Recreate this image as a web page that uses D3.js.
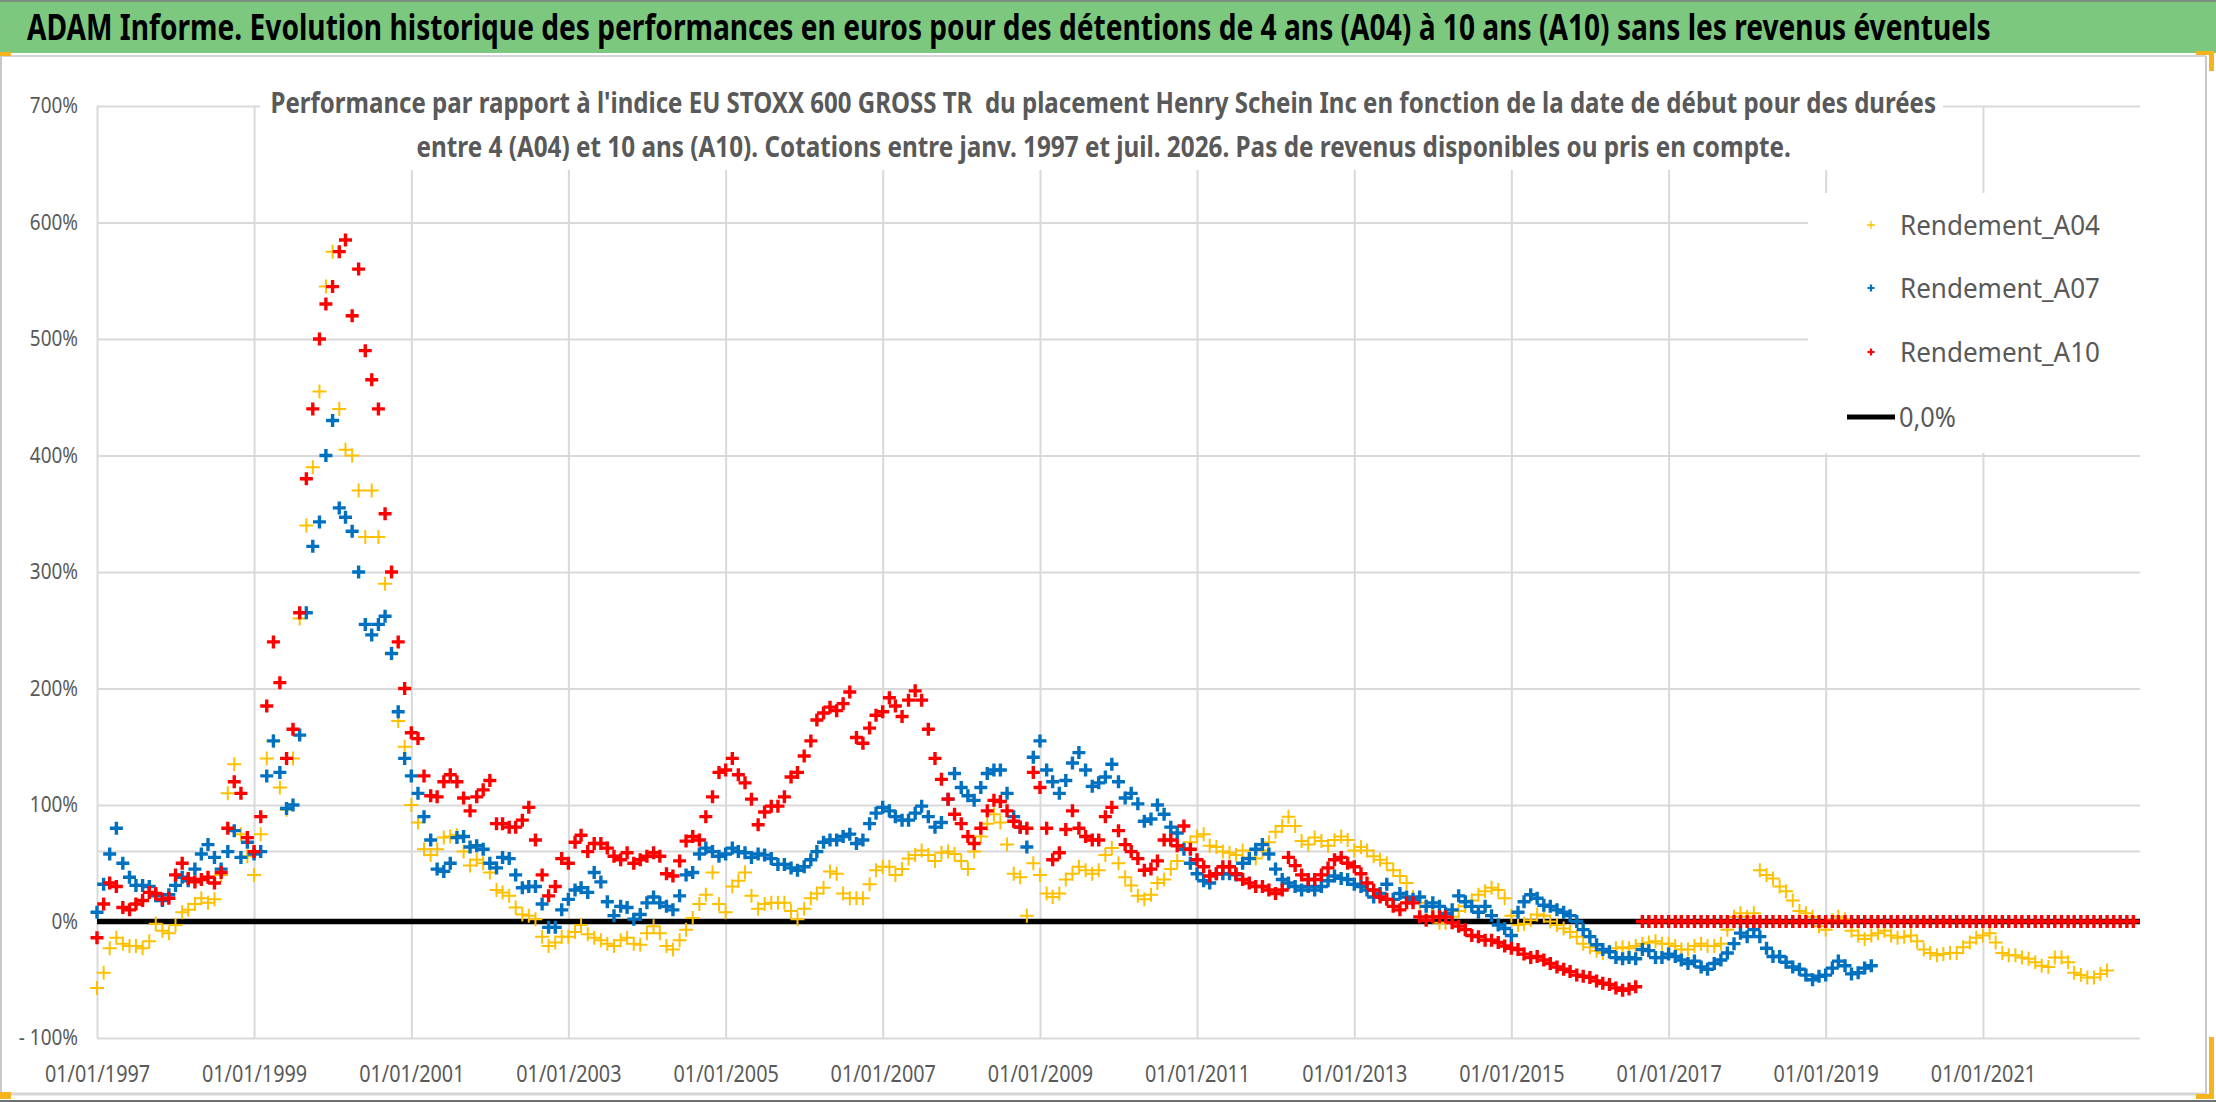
<!DOCTYPE html>
<html lang="fr">
  <head>
    <meta charset="UTF-8" />
    <title>ADAM Informe - Henry Schein Inc</title>
    <script src="https://cdnjs.cloudflare.com/ajax/libs/d3/7.8.5/d3.min.js"></script>
    <style>
      body { margin: 0; background: #fff; }
      svg { display: block; font-family: "Noto Sans", "Open Sans", sans-serif; }
    </style>
  </head>

  <body>
    <script>
      // valeurs : une valeur par mois a partir de janv. 1997 (en %)
      var startYear = 1997;

      var a04 = [
        -57,-44,-23,-14,-19,-21,-21,-23,-17,-2,-8,-10,
        -3,8,10,15,20,16,19,40,110,135,75,56,
        40,75,140,155,115,96,140,260,340,390,455,545,
        575,440,405,400,370,330,370,330,290,230,172,150,
        100,85,62,57,62,72,73,74,60,48,53,50,
        42,27,25,22,12,6,5,2,-13,-21,-18,-13,
        -13,-9,-3,-11,-14,-16,-19,-21,-16,-14,-19,-20,
        -10,-4,-10,-21,-24,-16,-7,3,15,23,42,15,
        8,30,35,42,22,11,15,16,16,16,9,2,
        11,20,24,29,43,41,24,20,20,20,32,44,
        47,47,40,45,54,57,61,57,52,59,60,58,
        52,45,60,73,84,92,85,66,41,38,5,50,
        40,24,21,24,36,41,47,44,41,44,57,63,
        50,38,31,22,19,23,33,36,45,52,63,68,
        73,75,65,64,60,59,57,61,55,54,61,68,
        77,82,90,82,69,66,72,69,65,70,73,70,
        61,64,61,56,53,50,44,39,33,21,16,13,
        5,-1,-1,4,9,13,18,23,26,29,27,20,
        5,-3,-2,1,6,5,0,-3,-6,-9,-13,-19,
        -22,-25,-27,-26,-23,-22,-23,-21,-19,-18,-17,-19,
        -19,-21,-24,-24,-21,-19,-21,-21,-19,-7,4,7,
        4,7,44,40,37,30,26,18,9,7,4,-4,
        -7,1,4,2,-8,-12,-15,-12,-10,-8,-12,-14,
        -13,-12,-17,-24,-27,-29,-28,-27,-27,-22,-18,-14,
        -12,-10,-18,-27,-29,-29,-31,-32,-35,-38,-39,-31,
        -31,-35,-44,-46,-48,-48,-45,-42
      ];

      var a07 = [
        8,32,58,80,50,38,31,31,30,22,18,23,
        31,38,35,45,58,66,55,45,60,78,55,68,
        58,60,125,155,128,97,100,160,265,322,343,400,
        430,355,347,335,300,255,246,255,262,230,180,140,
        125,110,90,70,45,43,50,72,73,64,65,62,
        50,46,55,54,40,29,30,30,15,-5,-5,10,
        19,27,29,25,42,34,17,5,13,12,2,6,
        16,21,16,13,10,22,40,42,58,63,60,56,
        58,63,60,59,55,58,57,54,49,49,46,44,
        47,53,60,68,70,70,73,75,67,70,84,93,
        98,95,90,87,87,93,99,90,81,85,105,127,
        115,108,104,115,127,130,130,110,90,81,64,141,
        155,130,120,110,121,136,145,130,116,119,124,135,
        120,106,110,101,86,88,100,92,81,76,62,50,
        41,35,33,41,41,41,40,50,54,62,66,58,
        45,36,33,30,27,30,27,30,35,39,37,36,
        32,30,27,21,24,32,19,24,21,19,21,13,
        16,13,7,10,22,17,13,8,13,5,-3,-6,
        -12,8,17,23,20,14,13,10,8,5,0,-7,
        -13,-20,-24,-26,-31,-32,-31,-32,-24,-25,-31,-31,
        -28,-30,-33,-36,-34,-39,-41,-36,-33,-27,-19,-10,
        -13,-7,-13,-23,-30,-30,-35,-39,-41,-46,-50,-47,
        -46,-40,-34,-38,-45,-44,-40,-38
      ];

      // A10 : plus de cotation apres aout 2016, la serie vaut 0
      var a10 = [
        -14,15,33,30,12,10,15,18,25,24,19,20,
        40,50,37,34,36,38,33,42,80,120,110,72,
        60,90,185,240,205,140,165,265,380,440,500,530,
        545,575,585,520,560,490,465,440,350,300,240,200,
        162,157,125,108,107,120,126,120,106,95,107,113,
        121,84,84,81,81,87,98,70,40,22,30,54,
        50,68,74,60,67,67,63,56,53,59,50,53,
        56,59,56,41,39,52,69,73,70,90,107,128,
        130,140,126,119,105,83,94,99,99,107,124,128,
        142,155,173,179,184,181,187,197,158,153,166,177,
        180,192,185,176,190,198,190,165,140,122,105,92,
        84,73,67,80,95,104,103,95,86,81,80,128,
        115,80,53,59,79,95,80,73,70,70,90,98,
        78,66,60,54,44,45,52,70,70,65,82,62,
        53,47,39,41,47,47,41,36,33,30,30,27,
        24,27,55,48,40,36,36,40,46,53,55,50,
        47,41,33,27,21,19,13,10,16,16,4,1,
        4,4,4,-1,-4,-7,-12,-13,-16,-16,-18,-21,
        -23,-24,-28,-31,-30,-33,-36,-39,-41,-43,-46,-47,
        -48,-51,-53,-54,-57,-59,-58,-56,0,0,0,0,
        0,0,0,0,0,0,0,0,0,0,0,0,
        0,0,0,0,0,0,0,0,0,0,0,0,
        0,0,0,0,0,0,0,0,0,0,0,0,
        0,0,0,0,0,0,0,0,0,0,0,0,
        0,0,0,0,0,0,0,0,0,0,0,0,
        0,0,0,0,0,0,0,0,0,0,0,0
      ];

      var zeroDates = ["1997-01-01", "2023-01-01"];
      var zeroValues = [0, 0];
      var refDates = ["1997-01-01", "2023-01-01"];
      var refValues = [60, 60];

      var xTickYears = [1997, 1999, 2001, 2003, 2005, 2007, 2009, 2011, 2013, 2015, 2017, 2019, 2021];
      var yTicks = [-100, 0, 100, 200, 300, 400, 500, 600, 700];

      var seriesNames = ["Rendement_A04", "Rendement_A07", "Rendement_A10"];
      var zeroName = "0,0%";
      var titleText = "ADAM Informe. Evolution historique des performances en euros pour des détentions de 4 ans (A04) à 10 ans (A10) sans les revenus éventuels";
      var subtitleLines = [
        "Performance par rapport à l'indice EU STOXX 600 GROSS TR  du placement Henry Schein Inc en fonction de la date de début pour des durées",
        "entre 4 (A04) et 10 ans (A10). Cotations entre janv. 1997 et juil. 2026. Pas de revenus disponibles ou pris en compte."
      ];

      var w = 2216;
      var h = 1102;
      var plot = { left: 97, right: 2140, top: 106, bottom: 1038 };
      var colors = ["#FFC000", "#0070C0", "#FF0000"];
      var grey = "#595959";
      var gridColor = "#D9D9D9";

      var svg = d3.select("body")
                  .append("svg")
                  .attr("width", w)
                  .attr("height", h);

      svg.append("rect")
         .attr("width", w)
         .attr("height", h)
         .attr("fill", "#fff");

      var xScale = d3.scaleTime()
                     .domain([new Date(1997, 0, 1), new Date(2023, 0, 1)])
                     .range([plot.left, plot.right]);

      var yScale = d3.scaleLinear()
                     .domain([-100, 700])
                     .range([plot.bottom, plot.top]);

      // texte etroit facon Calibri : on choisit la taille pour la largeur voulue,
      // puis on etire en hauteur
      function fitText(sel, x, y, width, size) {
        sel.attr("x", 0).attr("y", 0).attr("font-size", size);
        var len = sel.node().getComputedTextLength();
        var fs = size * width / len;
        sel.attr("font-size", fs)
           .attr("transform", "translate(" + x + "," + y + ") scale(1," + (size / fs) + ")");
      }

      function condense(sel, k) {
        sel.each(function() {
          var len = this.getComputedTextLength();
          d3.select(this)
            .attr("textLength", len * k)
            .attr("lengthAdjust", "spacingAndGlyphs");
        });
      }

      // quadrillage vertical + dates
      var xAxis = svg.append("g")
         .attr("transform", "translate(0," + plot.bottom + ")")
         .call(d3.axisBottom(xScale)
                 .tickValues(xTickYears.map(function(yr) { return new Date(yr, 0, 1); }))
                 .tickFormat(d3.timeFormat("%d/%m/%Y"))
                 .tickSize(-(plot.bottom - plot.top))
                 .tickPadding(28));
      xAxis.select(".domain").remove();
      xAxis.selectAll("line").attr("stroke", gridColor).attr("stroke-width", 2);
      xAxis.selectAll("text")
           .attr("fill", grey)
           .attr("font-size", 23)
           .attr("font-family", "'Noto Sans', sans-serif")
           .call(condense, 0.86);

      // quadrillage horizontal + pourcentages
      var yAxis = svg.append("g")
         .attr("transform", "translate(" + plot.left + ",0)")
         .call(d3.axisLeft(yScale)
                 .tickValues(yTicks)
                 .tickFormat(function(d) { return d < 0 ? "- " + Math.abs(d) + "%" : d + "%"; })
                 .tickSize(-(plot.right - plot.left))
                 .tickPadding(19));
      yAxis.select(".domain").remove();
      yAxis.selectAll("line").attr("stroke", gridColor).attr("stroke-width", 2);
      yAxis.selectAll("text")
           .attr("fill", grey)
           .attr("font-size", 21)
           .attr("font-family", "'Noto Sans', sans-serif")
           .call(condense, 0.9);

      var line = d3.line()
                   .x(function(d) { return xScale(d.date); })
                   .y(function(d) { return yScale(d.v); });

      svg.append("path")
         .datum(refDates.map(function(d, i) { return { date: new Date(d), v: refValues[i] }; }))
         .attr("d", line)
         .attr("fill", "none")
         .attr("stroke", gridColor)
         .attr("stroke-width", 2);

      // cadres blancs du titre et de la legende (ils masquent le quadrillage)
      svg.append("rect")
         .attr("x", 260).attr("y", 86)
         .attr("width", 1683).attr("height", 84)
         .attr("fill", "#fff");
      svg.append("rect")
         .attr("x", 1808).attr("y", 193)
         .attr("width", 334).attr("height", 260)
         .attr("fill", "#fff");

      // ligne 0,0%
      svg.append("path")
         .datum(zeroDates.map(function(d, i) { return { date: new Date(d), v: zeroValues[i] }; }))
         .attr("d", line)
         .attr("fill", "none")
         .attr("stroke", "#000")
         .attr("stroke-width", 5.5);

      var plus = "M-7,0H7M0,-7V7";
      var plusBold = "M-6.5,0H6.5M0,-6.5V6.5";

      [a04, a07, a10].forEach(function(values, s) {
        var pts = values.map(function(v, i) {
          return { date: new Date(startYear, i, 1), v: v };
        });
        svg.append("g")
           .selectAll("path")
           .data(pts)
           .enter()
           .append("path")
           .attr("d", s === 0 ? plus : plusBold)
           .attr("transform", function(d) {
             return "translate(" + xScale(d.date) + "," + yScale(d.v) + ")";
           })
           .attr("fill", "none")
           .attr("stroke", colors[s])
           .attr("stroke-width", s === 0 ? 2 : 3.4);
      });

      // legende
      var legY = [225, 288, 352];
      seriesNames.forEach(function(name, s) {
        svg.append("path")
           .attr("d", s === 0 ? "M-4,0H4M0,-4V4" : "M-3.5,0H3.5M0,-3.5V3.5")
           .attr("transform", "translate(1871," + legY[s] + ")")
           .attr("fill", "none")
           .attr("stroke", colors[s])
           .attr("stroke-width", s === 0 ? 1.3 : 2.2);
        svg.append("text")
           .attr("fill", grey)
           .text(name)
           .call(fitText, 1900, legY[s] + 10, 200, 28);
      });
      svg.append("line")
         .attr("x1", 1847).attr("x2", 1895)
         .attr("y1", 417).attr("y2", 417)
         .attr("stroke", "#000")
         .attr("stroke-width", 5);
      svg.append("text")
         .attr("fill", grey)
         .text(zeroName)
         .call(fitText, 1899, 427, 57, 28);

      // sous-titre
      var subLen = [1667, 1375];
      subtitleLines.forEach(function(t, i) {
        svg.append("text")
           .attr("font-weight", "bold")
           .attr("fill", grey)
           .style("white-space", "pre")
           .text(t)
           .call(fitText, 1104 - subLen[i] / 2, 113 + i * 44, subLen[i], 29);
      });

      // bandeau vert
      svg.append("rect")
         .attr("x", 0).attr("y", 2)
         .attr("width", w).attr("height", 51)
         .attr("fill", "#7DC87F");
      svg.append("line")
         .attr("x1", 0).attr("x2", w)
         .attr("y1", 1).attr("y2", 1)
         .attr("stroke", "#7f8f7f")
         .attr("stroke-width", 2);
      svg.append("line")
         .attr("x1", 0).attr("x2", 2206)
         .attr("y1", 56).attr("y2", 56)
         .attr("stroke", "#d4d4d4")
         .attr("stroke-width", 2);
      svg.append("text")
         .attr("font-weight", "bold")
         .attr("fill", "#000")
         .text(titleText)
         .call(fitText, 27, 40, 1964, 35);

      // bords de la zone du graphique
      svg.append("line")
         .attr("x1", 1).attr("x2", 1)
         .attr("y1", 56).attr("y2", 1094)
         .attr("stroke", "#c8c8c8").attr("stroke-width", 2);
      svg.append("line")
         .attr("x1", 2206).attr("x2", 2206)
         .attr("y1", 56).attr("y2", 1094)
         .attr("stroke", "#c8c8c8").attr("stroke-width", 2);
      svg.append("line")
         .attr("x1", 0).attr("x2", 2206)
         .attr("y1", 1094).attr("y2", 1094)
         .attr("stroke", "#d4d4d4").attr("stroke-width", 3);
      svg.append("line")
         .attr("x1", 0).attr("x2", w)
         .attr("y1", 1101).attr("y2", 1101)
         .attr("stroke", "#707070").attr("stroke-width", 2);

      // poignees de selection
      var handle = "#F5B41E";
      svg.append("rect").attr("x", 0).attr("y", 52).attr("width", 11).attr("height", 4).attr("fill", handle);
      svg.append("rect").attr("x", 0).attr("y", 1092).attr("width", 11).attr("height", 7).attr("fill", handle);
      svg.append("rect").attr("x", 2196).attr("y", 51).attr("width", 18).attr("height", 4).attr("fill", handle);
      svg.append("rect").attr("x", 2209).attr("y", 51).attr("width", 5).attr("height", 20).attr("fill", handle);
      svg.append("rect").attr("x", 2209).attr("y", 1037).attr("width", 5).attr("height", 62).attr("fill", handle);
      svg.append("rect").attr("x", 2196).attr("y", 1094).attr("width", 18).attr("height", 5).attr("fill", handle);
    </script>
  </body>
</html>
